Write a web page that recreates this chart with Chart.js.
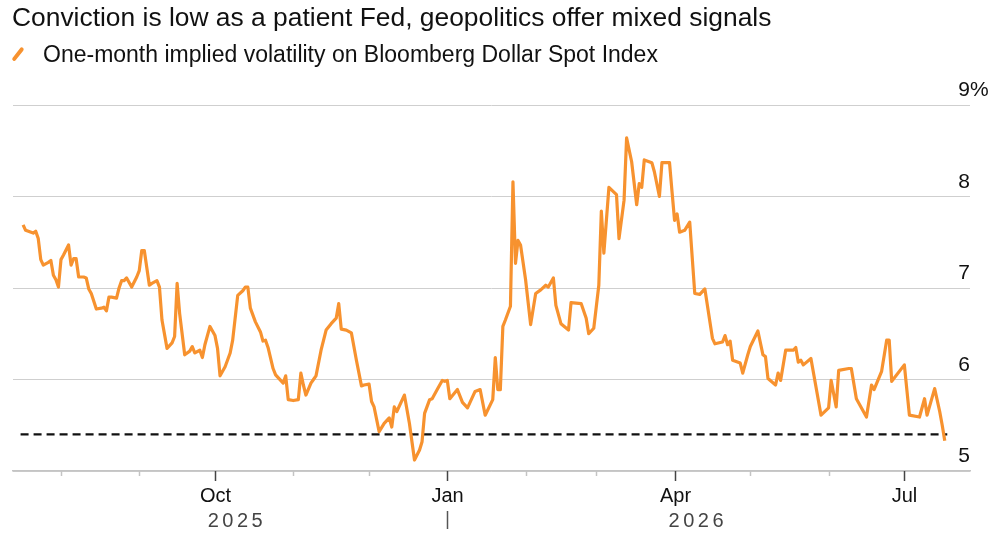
<!DOCTYPE html>
<html>
<head>
<meta charset="utf-8">
<script src="https://cdn.jsdelivr.net/npm/chart.js@4.4.1/dist/chart.umd.min.js"></script>
<style>
  body { margin: 0; background: #fff; font-family: "Liberation Sans", Arial, sans-serif; }
  #wrap { position: relative; width: 1000px; height: 545px; overflow: hidden; }
  #chart { position: absolute; left: 0; top: 0; }
  #title { position: absolute; left: 12px; top: 1px; font-size: 26.4px; line-height: 32px; color: #111; white-space: nowrap; }
  #legend { position: absolute; left: 12px; top: 40px; font-size: 23px; line-height: 28px; color: #111; white-space: nowrap; }
  #legend .mark { position: absolute; left: 4px; top: 6px; width: 3.5px; height: 16px; background: #f7922f; border-radius: 2px;
    transform: rotate(38deg); }
  #legend .txt { position: absolute; left: 31px; top: 0; }
</style>
</head>
<body>
<div id="wrap">
  <canvas id="chart" width="1000" height="545"></canvas>
  <div id="title">Conviction is low as a patient Fed, geopolitics offer mixed signals</div>
  <div id="legend"><span class="mark"></span><span class="txt">One-month implied volatility on Bloomberg Dollar Spot Index</span></div>
</div>
<script>
// values (percent)
const dates = [
  '2025-07-17','2025-07-18','2025-07-21','2025-07-22','2025-07-23','2025-07-24','2025-07-25','2025-07-27',
  '2025-07-28','2025-07-29','2025-07-30','2025-07-31','2025-08-01','2025-08-02','2025-08-04','2025-08-05',
  '2025-08-06','2025-08-07','2025-08-08','2025-08-10','2025-08-11','2025-08-12','2025-08-13','2025-08-15',
  '2025-08-17','2025-08-18','2025-08-19','2025-08-20','2025-08-21','2025-08-23','2025-08-24','2025-08-25',
  '2025-08-26','2025-08-27','2025-08-29','2025-08-31','2025-09-01','2025-09-02','2025-09-03','2025-09-05',
  '2025-09-06','2025-09-08','2025-09-09','2025-09-10','2025-09-12','2025-09-14','2025-09-15','2025-09-16',
  '2025-09-17','2025-09-19','2025-09-21','2025-09-22','2025-09-23','2025-09-25','2025-09-26','2025-09-27',
  '2025-09-29','2025-10-01','2025-10-02','2025-10-03','2025-10-05','2025-10-07','2025-10-08','2025-10-10',
  '2025-10-12','2025-10-13','2025-10-14','2025-10-15','2025-10-17','2025-10-19','2025-10-20','2025-10-21',
  '2025-10-22','2025-10-24','2025-10-25','2025-10-27','2025-10-28','2025-10-29','2025-10-30','2025-11-01',
  '2025-11-03','2025-11-04','2025-11-05','2025-11-06','2025-11-08','2025-11-09','2025-11-10','2025-11-12',
  '2025-11-14','2025-11-16','2025-11-18','2025-11-19','2025-11-20','2025-11-22','2025-11-24','2025-11-26',
  '2025-11-28','2025-11-29','2025-12-01','2025-12-02','2025-12-03','2025-12-05','2025-12-07','2025-12-09',
  '2025-12-10','2025-12-11','2025-12-12','2025-12-15','2025-12-17','2025-12-19','2025-12-21','2025-12-22',
  '2025-12-23','2025-12-25','2025-12-26','2025-12-28','2025-12-30','2025-12-31','2026-01-01','2026-01-02',
  '2026-01-05','2026-01-07','2026-01-09','2026-01-12','2026-01-14','2026-01-16','2026-01-19','2026-01-20',
  '2026-01-21','2026-01-22','2026-01-23','2026-01-24','2026-01-26','2026-01-27','2026-01-28','2026-01-29',
  '2026-01-30','2026-02-01','2026-02-03','2026-02-05','2026-02-07','2026-02-09','2026-02-10','2026-02-12',
  '2026-02-13','2026-02-15','2026-02-18','2026-02-19','2026-02-23','2026-02-25','2026-02-26','2026-02-28',
  '2026-03-02','2026-03-03','2026-03-04','2026-03-06','2026-03-09','2026-03-10','2026-03-12','2026-03-13',
  '2026-03-15','2026-03-17','2026-03-18','2026-03-19','2026-03-20','2026-03-23','2026-03-24','2026-03-26',
  '2026-03-27','2026-03-30','2026-03-31','2026-04-01','2026-04-02','2026-04-03','2026-04-05','2026-04-07',
  '2026-04-09','2026-04-11','2026-04-13','2026-04-16','2026-04-17','2026-04-20','2026-04-21','2026-04-22',
  '2026-04-23','2026-04-24','2026-04-27','2026-04-28','2026-04-30','2026-05-01','2026-05-04','2026-05-06',
  '2026-05-07','2026-05-08','2026-05-11','2026-05-12','2026-05-13','2026-05-15','2026-05-18','2026-05-19',
  '2026-05-20','2026-05-21','2026-05-22','2026-05-25','2026-05-29','2026-06-01','2026-06-02','2026-06-04',
  '2026-06-05','2026-06-09','2026-06-10','2026-06-12','2026-06-16','2026-06-18','2026-06-19','2026-06-22',
  '2026-06-24','2026-06-25','2026-06-26','2026-07-01','2026-07-03','2026-07-07','2026-07-09','2026-07-10',
  '2026-07-13','2026-07-15','2026-07-16','2026-07-17'
];
const vol = [
  7.69,7.63,7.60,7.62,7.54,7.31,7.25,7.28,
  7.30,7.14,7.09,7.01,7.31,7.36,7.47,7.25,
  7.32,7.32,7.12,7.12,7.11,6.99,6.94,6.77,
  6.78,6.79,6.75,6.90,6.90,6.89,7.00,7.08,
  7.08,7.11,7.01,7.12,7.19,7.41,7.41,7.03,
  7.05,7.08,7.01,6.65,6.34,6.40,6.47,7.05,
  6.72,6.27,6.31,6.36,6.29,6.32,6.24,6.38,
  6.58,6.48,6.34,6.04,6.14,6.29,6.43,6.92,
  6.97,7.01,7.01,6.78,6.63,6.52,6.42,6.43,
  6.35,6.12,6.05,5.99,5.96,6.04,5.78,5.77,
  5.78,6.07,5.94,5.83,5.96,6.00,6.04,6.32,
  6.54,6.61,6.67,6.83,6.55,6.54,6.51,6.21,
  5.93,5.94,5.95,5.76,5.70,5.43,5.52,5.58,
  5.48,5.70,5.65,5.83,5.52,5.12,5.23,5.32,
  5.63,5.78,5.79,5.89,5.99,5.98,5.99,5.79,
  5.89,5.75,5.69,5.87,5.89,5.61,5.78,6.24,
  5.89,5.89,6.58,6.65,6.80,8.16,7.27,7.52,
  7.47,7.09,6.60,6.94,6.98,7.03,7.01,7.11,
  6.81,6.61,6.54,6.84,6.83,6.67,6.50,6.56,
  7.03,7.84,7.38,8.10,8.02,7.54,7.96,8.64,
  8.38,7.91,8.14,8.10,8.40,8.37,8.27,8.00,
  8.37,8.37,8.05,7.74,7.81,7.61,7.63,7.72,
  6.94,6.93,6.99,6.45,6.39,6.41,6.48,6.38,
  6.42,6.21,6.18,6.07,6.27,6.36,6.53,6.27,
  6.25,6.01,5.94,6.07,5.99,6.32,6.32,6.35,
  6.19,6.21,6.16,6.23,5.61,5.69,5.99,5.70,
  6.10,6.12,6.12,5.79,5.59,5.94,5.89,6.09,
  6.43,6.43,5.98,6.16,5.61,5.59,5.79,5.61,
  5.90,5.65,5.50,5.33
];

// dashed reference level
const refDates = ['2025-07-16', '2026-07-18'];
const refLevel = 5.40;

// axes
const axisStart = '2025-07-13';
const axisEnd = '2026-07-27';
const yTicks = [5, 6, 7, 8, 9];
const monthStarts = ['2025-08-01','2025-09-01','2025-10-01','2025-11-01','2025-12-01','2026-01-01',
                     '2026-02-01','2026-03-01','2026-04-01','2026-05-01','2026-06-01','2026-07-01'];
const monthLabels = ['', '', 'Oct', '', '', 'Jan', '', '', 'Apr', '', '', 'Jul'];
const years = ['2025', '2026'];
const yearBreak = '2026-01-01';

const day0 = Date.UTC(2025, 6, 1);
const toDay = s => (Date.parse(s) - day0) / 86400000;

const orange = '#f7922f';
const FONT = '"Liberation Sans", Arial, sans-serif';

const axisDecor = {
  id: 'axisDecor',
  afterDraw(chart) {
    const ctx = chart.ctx;
    const xs = chart.scales.x, ys = chart.scales.y;
    const area = chart.chartArea;
    const base = area.bottom;
    ctx.save();

    // month ticks
    monthStarts.forEach((m, i) => {
      const px = Math.round(xs.getPixelForValue(toDay(m))) + 0.5;
      const major = monthLabels[i] !== '';
      ctx.strokeStyle = major ? '#444' : '#c4c4c4';
      ctx.lineWidth = 1.5;
      ctx.beginPath();
      ctx.moveTo(px, base);
      ctx.lineTo(px, base + (major ? 10 : 5));
      ctx.stroke();
      if (major) {
        ctx.fillStyle = '#111';
        ctx.font = '20px ' + FONT;
        ctx.textAlign = 'center';
        ctx.textBaseline = 'alphabetic';
        ctx.fillText(monthLabels[i], px, base + 31);
      }
    });

    // year labels, centred on each year's part of the data
    const first = toDay(dates[0]), last = toDay(dates[dates.length - 1]), brk = toDay(yearBreak);
    const centres = [(first + brk) / 2, (brk + last) / 2];
    ctx.fillStyle = '#444';
    ctx.font = '20px ' + FONT;
    ctx.textAlign = 'center';
    const sp = 3.5;
    if ('letterSpacing' in ctx) ctx.letterSpacing = sp + 'px';
    years.forEach((y, i) => {
      ctx.fillText(y, xs.getPixelForValue(centres[i]) + sp / 2, base + 56);
    });
    if ('letterSpacing' in ctx) ctx.letterSpacing = '0px';
    const bx = Math.round(xs.getPixelForValue(brk)) + 0.5;
    ctx.strokeStyle = '#555';
    ctx.lineWidth = 1.5;
    ctx.beginPath();
    ctx.moveTo(bx, base + 40);
    ctx.lineTo(bx, base + 58);
    ctx.stroke();

    // y labels sit above their gridlines at the right end
    ctx.fillStyle = '#111';
    ctx.font = '21px ' + FONT;
    ctx.textBaseline = 'alphabetic';
    yTicks.forEach(v => {
      const py = ys.getPixelForValue(v) - 9;
      ctx.textAlign = 'right';
      ctx.fillText(String(v), area.right, py);
      if (v === yTicks[yTicks.length - 1]) {
        ctx.textAlign = 'left';
        ctx.fillText('%', area.right, py);
      }
    });
    ctx.restore();
  }
};

new Chart(document.getElementById('chart'), {
  type: 'line',
  data: {
    datasets: [{
      label: 'One-month implied volatility on Bloomberg Dollar Spot Index',
      data: dates.map((d, i) => ({ x: toDay(d), y: vol[i] })),
      borderColor: orange,
      borderWidth: 3.2,
      borderJoinStyle: 'round',
      pointRadius: 0,
      tension: 0,
      order: 1
    }, {
      label: 'level',
      data: refDates.map(d => ({ x: toDay(d), y: refLevel })),
      borderColor: '#111',
      borderWidth: 2.4,
      borderDash: [8, 5],
      pointRadius: 0,
      order: 2
    }]
  },
  options: {
    responsive: false,
    animation: false,
    events: [],
    layout: { padding: { left: 13, right: 30, top: 105, bottom: 74 } },
    plugins: { legend: { display: false }, tooltip: { enabled: false } },
    scales: {
      x: {
        type: 'linear',
        min: toDay(axisStart),
        max: toDay(axisEnd),
        grid: { display: false, drawTicks: false },
        border: { display: true, color: '#c4c4c4', width: 1.5 },
        ticks: { display: false }
      },
      y: {
        position: 'right',
        min: 5,
        max: 9,
        afterBuildTicks: s => { s.ticks = yTicks.map(v => ({ value: v })); },
        grid: { color: '#cfcfcf', lineWidth: 1, drawTicks: false },
        border: { display: false },
        ticks: { display: false }
      }
    }
  },
  plugins: [axisDecor]
});
</script>
</body>
</html>
